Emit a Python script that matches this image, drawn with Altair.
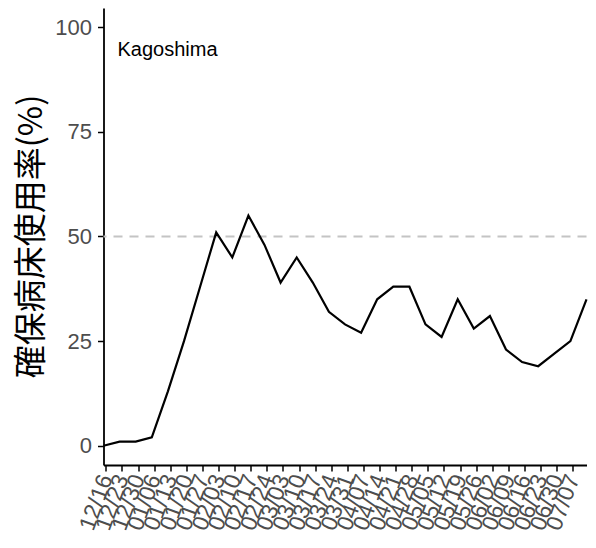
import altair as alt
import pandas as pd

# weekly observation dates (point positions)
dates = ["2020/12/15", "2020/12/22", "2020/12/29", "2021/01/05", "2021/01/12",
         "2021/01/19", "2021/01/26", "2021/02/02", "2021/02/09", "2021/02/16",
         "2021/02/23", "2021/03/02", "2021/03/09", "2021/03/16", "2021/03/23",
         "2021/03/30", "2021/04/06", "2021/04/13", "2021/04/20", "2021/04/27",
         "2021/05/04", "2021/05/11", "2021/05/18", "2021/05/25", "2021/06/01",
         "2021/06/08", "2021/06/15", "2021/06/22", "2021/06/29", "2021/07/06",
         "2021/07/13"]
values = [0, 1, 1, 2, 13, 25, 38, 51, 45, 55, 48, 39, 45, 39, 32, 29, 27, 35,
          38, 38, 29, 26, 35, 28, 31, 23, 20, 19, 22, 25, 35]

# tick label dates (year, month, day)
tick_dates = [(2020, 12, 16), (2020, 12, 23), (2020, 12, 30), (2021, 1, 6),
              (2021, 1, 13), (2021, 1, 20), (2021, 1, 27), (2021, 2, 3),
              (2021, 2, 10), (2021, 2, 17), (2021, 2, 24), (2021, 3, 3),
              (2021, 3, 10), (2021, 3, 17), (2021, 3, 24), (2021, 3, 31),
              (2021, 4, 7), (2021, 4, 14), (2021, 4, 21), (2021, 4, 28),
              (2021, 5, 5), (2021, 5, 12), (2021, 5, 19), (2021, 5, 26),
              (2021, 6, 2), (2021, 6, 9), (2021, 6, 16), (2021, 6, 23),
              (2021, 6, 30), (2021, 7, 7)]
y_ticks = [0, 25, 50, 75, 100]
threshold = [50]
region = ["Kagoshima"]

df = pd.DataFrame({"date": dates, "value": values})
tick_vals = [alt.DateTime(year=y, month=m, date=d) for (y, m, d) in tick_dates]
domain = [alt.DateTime(year=2020, month=12, date=15),
          alt.DateTime(year=2021, month=7, date=13)]

label_font = "Liberation Sans"
grey = "#4D4D4D"

x_enc = alt.X(
    "date:T",
    scale=alt.Scale(domain=domain),
    axis=alt.Axis(values=tick_vals, format="%m/%d", title=None,
                  labelAngle=-70, labelFontSize=23, labelColor=grey,
                  labelFont=label_font, labelPadding=4, labelOverlap=False,
                  tickSize=6, tickColor="black", tickWidth=1.5,
                  domainColor="black", domainWidth=1.8, grid=False),
)
y_enc = alt.Y(
    "value:Q",
    scale=alt.Scale(domain=[-4.6, 104.6], nice=False, zero=False),
    axis=alt.Axis(values=y_ticks, title="確保病床使用率(%)",
                  titleFont="Noto Sans CJK JP", titleFontSize=33,
                  titleFontWeight="normal", titleColor="black",
                  titleAngle=-90, titleX=-72, titleY=228,
                  titleAlign="center", titleBaseline="middle",
                  labelFontSize=22, labelColor=grey, labelFont=label_font,
                  labelPadding=6, tickSize=6, tickColor="black",
                  tickWidth=1.5, domainColor="black", domainWidth=1.8,
                  grid=False),
)

line = alt.Chart(df).mark_line(color="black", strokeWidth=2.2).encode(
    x=x_enc, y=y_enc
)

rule = alt.Chart(pd.DataFrame({"t": threshold})).mark_rule(
    color="#C4C4C4", strokeDash=[9, 7], strokeWidth=2
).encode(y=alt.Y("t:Q"))

label = alt.Chart(pd.DataFrame({"name": region})).mark_text(
    align="left", baseline="middle", fontSize=20, font=label_font,
    color="black"
).encode(text="name:N", x=alt.value(14), y=alt.value(42))

chart = alt.layer(rule, line, label).properties(
    width=483, height=457,
    background="white",
    autosize=alt.AutoSizeParams(type="none"),
    padding={"left": 95.5, "top": 0, "right": 1.5, "bottom": 75},
).configure_view(stroke=None, strokeWidth=0)

chart.save("out.html", embed_options={"renderer": "svg", "actions": False})
